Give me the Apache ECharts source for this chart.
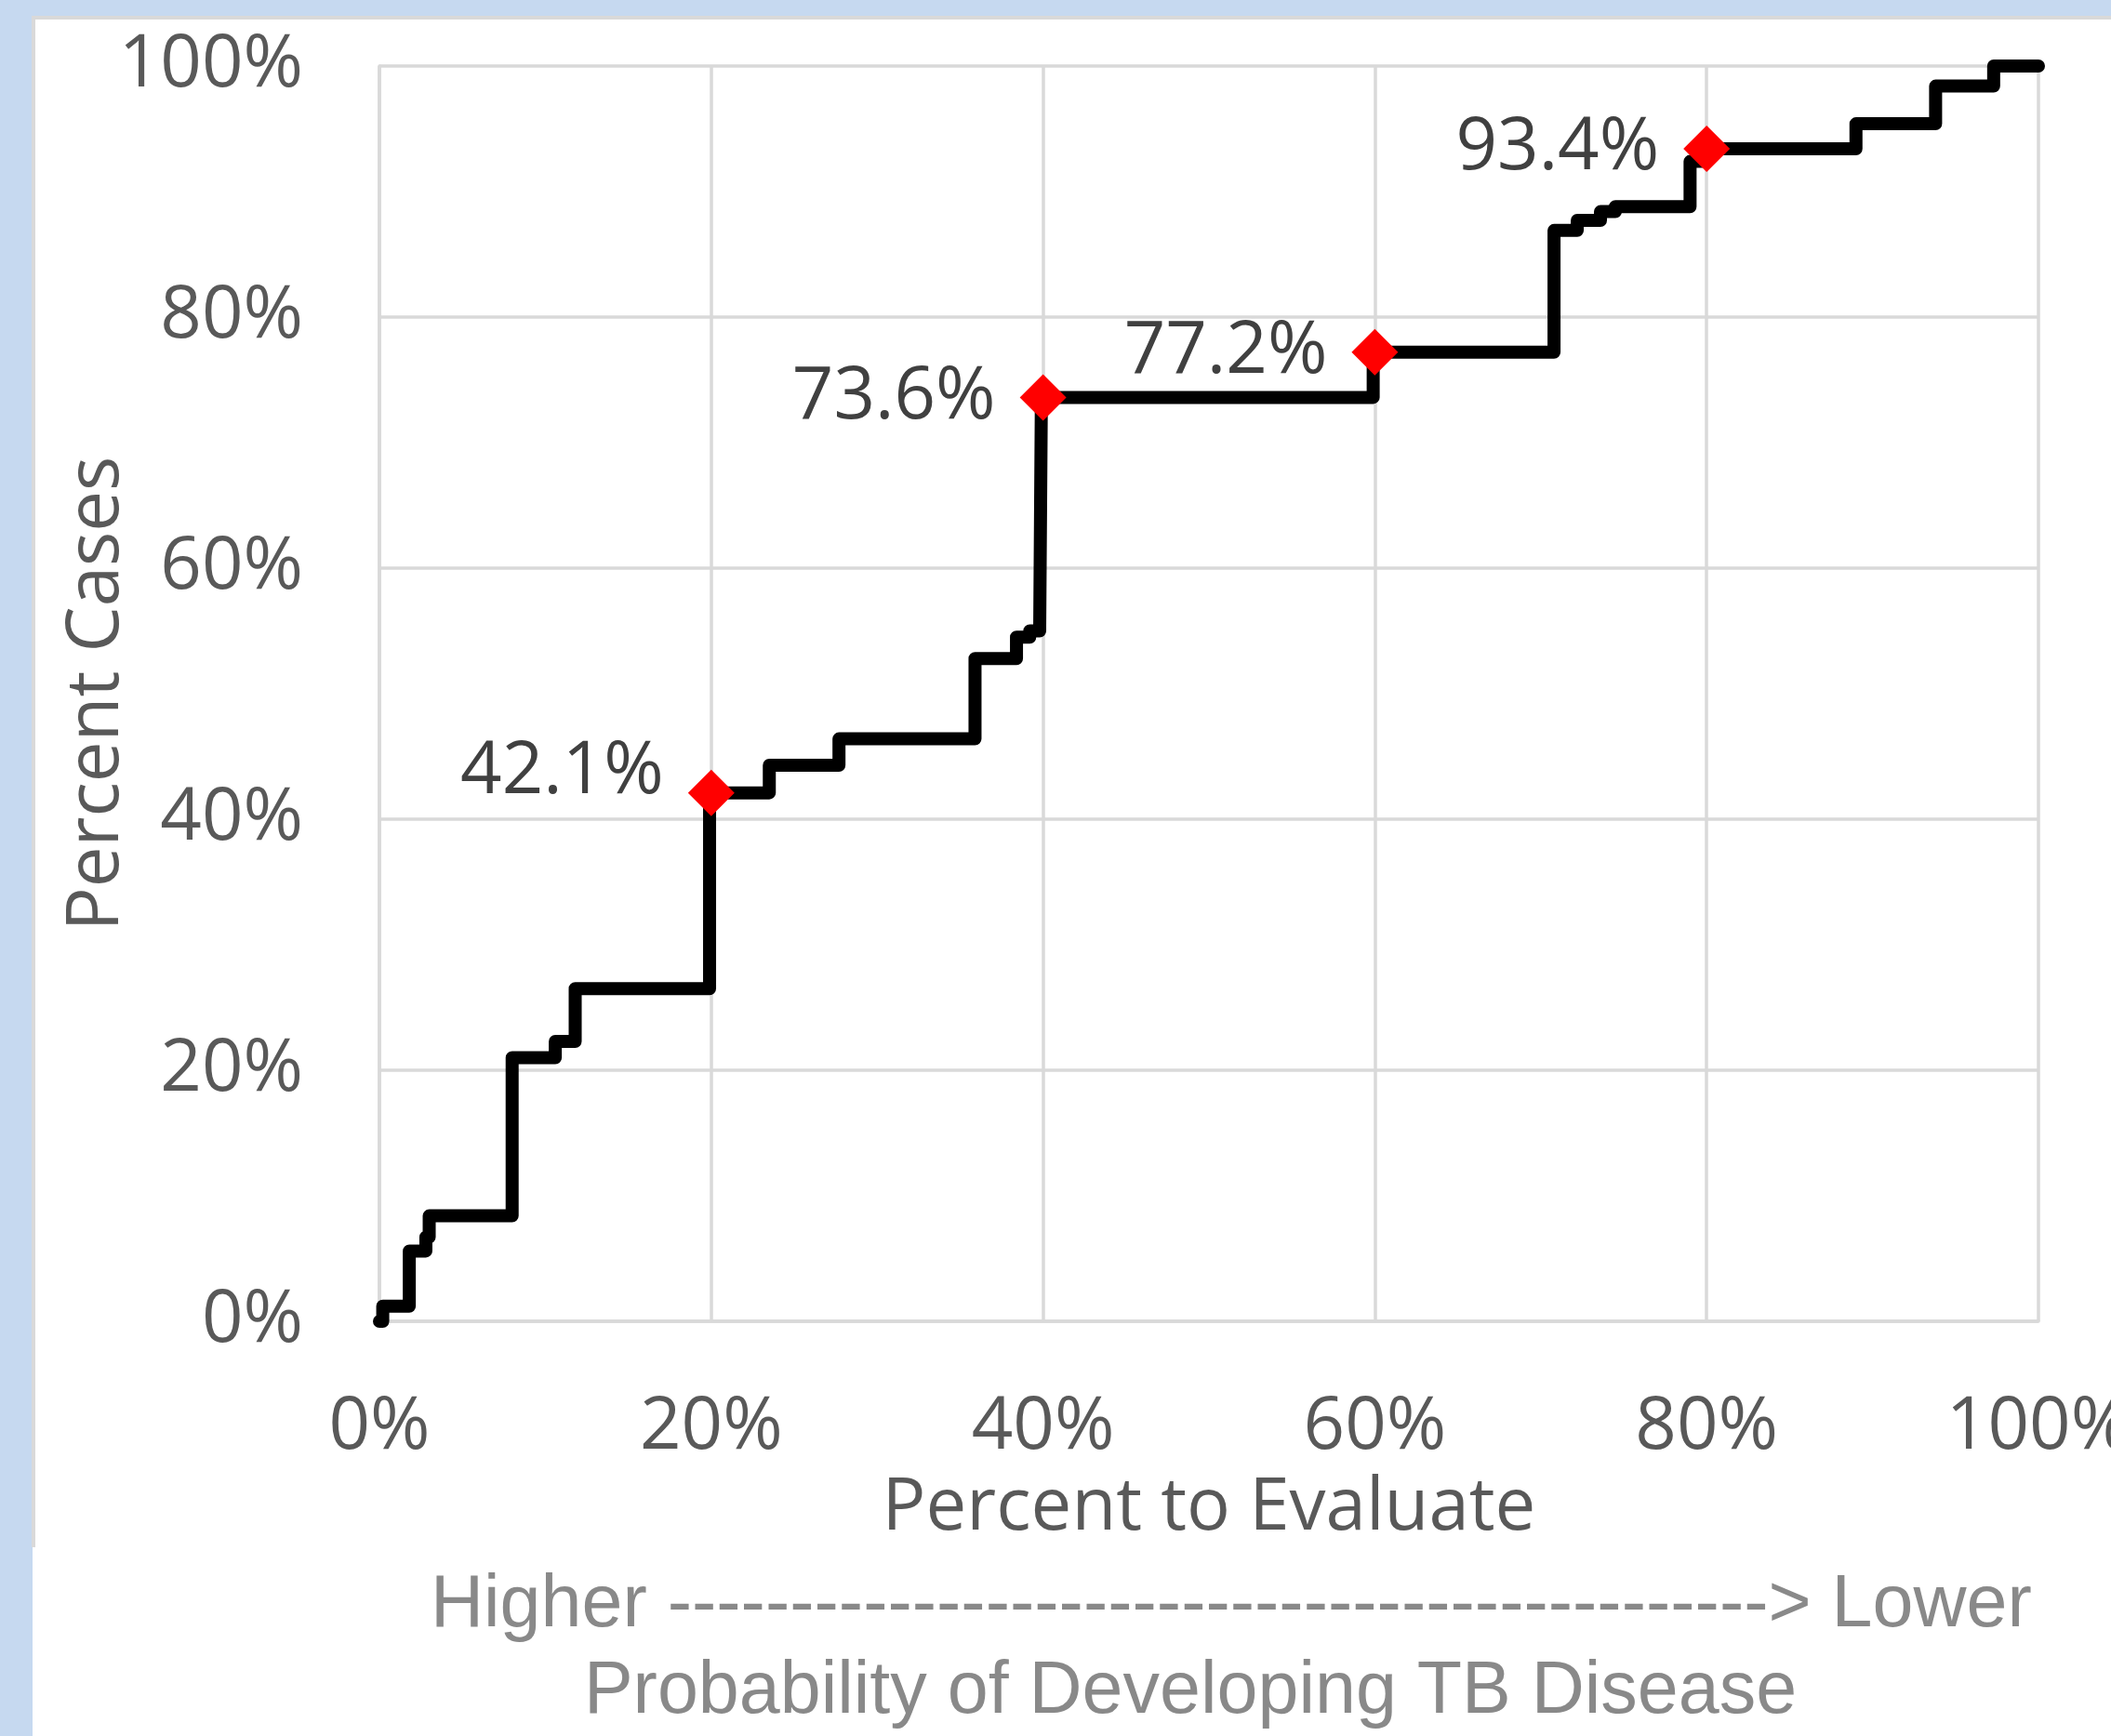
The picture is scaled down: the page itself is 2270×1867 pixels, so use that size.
<!DOCTYPE html>
<html>
<head>
<meta charset="utf-8">
<script src="https://cdn.jsdelivr.net/npm/echarts@6/dist/echarts.min.js"></script>
<style>
html,body{margin:0;padding:0;width:2270px;height:1867px;overflow:hidden;background:#c6d9f0;}
#panel1{position:absolute;left:34px;top:17px;width:2236px;height:1647px;background:#fff;border-top:4px solid #d9d9d9;border-left:4px solid #d9d9d9;box-sizing:border-box;}
#panel2{position:absolute;left:35px;top:1664px;width:2235px;height:203px;background:#fff;}
#chart{position:absolute;left:0;top:0;width:2270px;height:1867px;}
</style>
</head>
<body>
<div id="panel1"></div>
<div id="panel2"></div>
<div id="chart"></div>
<script>
// Step curve: x = percent to evaluate, y = percent of cases reached at that x
const stepX = [0, 0.2, 1.8, 2.8, 3.0, 8.0, 10.6, 11.8, 19.9, 23.5, 27.7, 35.9, 38.4, 39.2, 39.8, 39.9, 59.9, 70.8, 72.2, 73.6, 74.5, 79.0, 80.0, 89.0, 93.8, 97.3, 100];
const stepY = [0, 1.2, 5.6, 6.7, 8.4, 21.0, 22.3, 26.5, 42.1, 44.3, 46.4, 52.8, 54.5, 55.0, 55.4, 73.6, 77.2, 86.9, 87.7, 88.4, 88.8, 92.4, 93.4, 95.4, 98.4, 100, 100];
// Highlighted points
const markX = [20, 40, 60, 80];
const markY = [42.1, 73.6, 77.2, 93.4];
// Tick labels
const xTicks = ['0%', '20%', '40%', '60%', '80%', '100%'];
const yTicks = ['0%', '20%', '40%', '60%', '80%', '100%'];
const xTitle = 'Percent to Evaluate';
const yTitle = 'Percent Cases';
const footer1 = 'Higher ---------------------------------------------> Lower';
const footer2 = 'Probability of Developing TB Disease';

const chart = echarts.init(document.getElementById('chart'), null, {renderer: 'canvas'});
const FONT = '"Open Sans", sans-serif';
const FOOT_FONT = '"Liberation Sans", Arial, sans-serif';
const lineData = stepX.map((x, i) => [x, stepY[i]]);
const markData = markX.map((x, i) => {
  const d = {value: [x, markY[i]]};
  if (i === 0) d.label = {offset: [0, -22]};
  return d;
});

chart.setOption({
  animation: false,
  backgroundColor: 'transparent',
  grid: {left: 408, right: 78, top: 71, bottom: 446, containLabel: false, outerBoundsMode: 'none'},
  xAxis: {
    type: 'value', min: 0, max: 100, interval: 20,
    axisLine: {show: true, lineStyle: {color: '#d9d9d9', width: 3.5}},
    axisTick: {show: false},
    splitLine: {show: true, lineStyle: {color: '#d9d9d9', width: 3.5}},
    axisLabel: {
      formatter: v => xTicks[Math.round(v / 20)],
      color: '#595959', fontSize: 78, fontFamily: FONT, margin: 76, hideOverlap: false
    },
    name: xTitle, nameLocation: 'middle', nameGap: 163, nameMoveOverlap: false,
    nameTextStyle: {color: '#595959', fontSize: 78, fontFamily: FONT}
  },
  yAxis: {
    type: 'value', min: 0, max: 100, interval: 20,
    axisLine: {show: true, lineStyle: {color: '#d9d9d9', width: 3.5}},
    axisTick: {show: false},
    splitLine: {show: true, lineStyle: {color: '#d9d9d9', width: 3.5}},
    axisLabel: {
      formatter: v => yTicks[Math.round(v / 20)],
      color: '#595959', fontSize: 78, fontFamily: FONT, margin: 82
    },
    name: yTitle, nameLocation: 'middle', nameGap: 264, nameRotate: 90, nameMoveOverlap: false,
    nameTextStyle: {color: '#595959', fontSize: 78, fontFamily: FONT}
  },
  series: [
    {
      type: 'line', data: lineData, step: 'end', showSymbol: false, symbol: 'none',
      lineStyle: {color: '#000', width: 14, cap: 'round', join: 'round'},
      z: 2
    },
    {
      type: 'scatter', data: markData, symbol: 'diamond', symbolSize: 50,
      itemStyle: {color: '#ff0000', opacity: 1},
      label: {
        show: true, position: 'left', distance: 26,
        formatter: p => p.value[1].toFixed(1) + '%',
        color: '#404040', fontSize: 78, fontFamily: FONT
      },
      z: 3
    }
  ],
  graphic: [
    {type: 'text', x: 463, y: 1727,
     style: {text: footer1, fill: '#898989', fontSize: 79, fontFamily: FOOT_FONT, textAlign: 'left', textVerticalAlign: 'middle'}},
    {type: 'text', x: 1280, y: 1820,
     style: {text: footer2, fill: '#898989', fontSize: 79, fontFamily: FOOT_FONT, textAlign: 'center', textVerticalAlign: 'middle'}}
  ]
});
</script>
</body>
</html>
